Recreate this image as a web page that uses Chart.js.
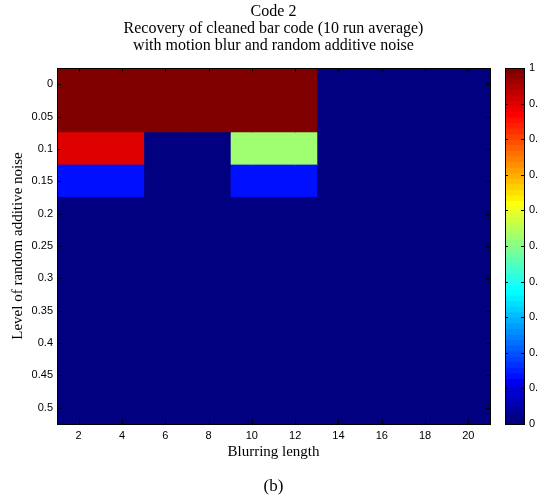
<!DOCTYPE html>
<html>
<head>
<meta charset="utf-8">
<script src="https://cdn.jsdelivr.net/npm/chart.js@4"></script>
<style>
  html, body { margin: 0; padding: 0; overflow: hidden; background: #fff; width: 538px; height: 502px; }
  #main { position: absolute; left: 0; top: 0; }
  #cbar { position: absolute; left: 500px; top: 0; }
</style>
</head>
<body>
<canvas id="main" width="538" height="502"></canvas>
<canvas id="cbar" width="80" height="502"></canvas>
<script>
// data
const blurLengths = [1, 2, 3, 4, 5, 6, 7, 8, 9, 10, 11, 12, 13, 14, 15, 16, 17, 18, 19, 20];
const noiseLevels = ['0', '0.05', '0.1', '0.15', '0.2', '0.25', '0.3', '0.35', '0.4', '0.45', '0.5'];
const xTicks = [2, 4, 6, 8, 10, 12, 14, 16, 18, 20];
const colorbarTicks = [0, 0.1, 0.2, 0.3, 0.4, 0.5, 0.6, 0.7, 0.8, 0.9, 1];

// one row per noise level, one value per blurring length
const recovery = [
  [1, 1, 1, 1, 1, 1, 1, 1, 1, 1, 1, 1, 0, 0, 0, 0, 0, 0, 0, 0],
  [1, 1, 1, 1, 1, 1, 1, 1, 1, 1, 1, 1, 0, 0, 0, 0, 0, 0, 0, 0],
  [0.9, 0.9, 0.9, 0.9, 0, 0, 0, 0, 0.52, 0.52, 0.52, 0.52, 0, 0, 0, 0, 0, 0, 0, 0],
  [0.13, 0.13, 0.13, 0.13, 0, 0, 0, 0, 0.13, 0.13, 0.13, 0.13, 0, 0, 0, 0, 0, 0, 0, 0],
  [0, 0, 0, 0, 0, 0, 0, 0, 0, 0, 0, 0, 0, 0, 0, 0, 0, 0, 0, 0],
  [0, 0, 0, 0, 0, 0, 0, 0, 0, 0, 0, 0, 0, 0, 0, 0, 0, 0, 0, 0],
  [0, 0, 0, 0, 0, 0, 0, 0, 0, 0, 0, 0, 0, 0, 0, 0, 0, 0, 0, 0],
  [0, 0, 0, 0, 0, 0, 0, 0, 0, 0, 0, 0, 0, 0, 0, 0, 0, 0, 0, 0],
  [0, 0, 0, 0, 0, 0, 0, 0, 0, 0, 0, 0, 0, 0, 0, 0, 0, 0, 0, 0],
  [0, 0, 0, 0, 0, 0, 0, 0, 0, 0, 0, 0, 0, 0, 0, 0, 0, 0, 0, 0],
  [0, 0, 0, 0, 0, 0, 0, 0, 0, 0, 0, 0, 0, 0, 0, 0, 0, 0, 0, 0]
];

// matlab jet(64)
function ramp(j) {
  if (j < 1 || j > 47) return 0;
  if (j <= 16) return j / 16;
  if (j <= 31) return 1;
  return (48 - j) / 16;
}
function jetColor(k) {
  const r = ramp(k - 24), g = ramp(k - 8), b = ramp(k + 7);
  return `rgb(${Math.round(r * 255)},${Math.round(g * 255)},${Math.round(b * 255)})`;
}
function valueColor(v) {
  return jetColor(Math.min(Math.floor(v * 64), 63) + 1);
}

const serif = 'Liberation Serif';
const sans = 'Liberation Sans';

// box + inward ticks like matlab
const frame = {
  id: 'frame',
  afterDatasetsDraw(chart, args, opts) {
    const ctx = chart.ctx;
    const { left, right, top, bottom } = chart.chartArea;
    const len = opts.len;
    ctx.save();
    ctx.strokeStyle = '#000';
    ctx.lineWidth = 1;
    ctx.beginPath();
    const xs = chart.scales.x;
    if (xs && xs.options.display) {
      xs.ticks.forEach(t => {
        const px = Math.round(xs.getPixelForValue(t.value)) + 0.5;
        ctx.moveTo(px, bottom); ctx.lineTo(px, bottom - len);
        ctx.moveTo(px, top); ctx.lineTo(px, top + len);
      });
    }
    const ys = chart.scales.y;
    ys.ticks.forEach((t, i) => {
      const py = Math.round(ys.getPixelForTick(i)) + 0.5;
      ctx.moveTo(left, py); ctx.lineTo(left + len, py);
      ctx.moveTo(right, py); ctx.lineTo(right - len, py);
    });
    ctx.stroke();
    ctx.strokeRect(Math.round(left) + 0.5, Math.round(top) + 0.5, Math.round(right - left), Math.round(bottom - top));
    ctx.restore();
  }
};

const cellSets = blurLengths.map((b, c) => ({
  data: noiseLevels.map(() => [b, b + 1]),
  backgroundColor: recovery.map(row => valueColor(row[c])),
  borderWidth: 0,
  inflateAmount: 0.5,
  grouped: false,
  barPercentage: 1,
  categoryPercentage: 1
}));

new Chart(document.getElementById('main'), {
  type: 'bar',
  data: { labels: noiseLevels, datasets: cellSets },
  plugins: [frame],
  options: {
    indexAxis: 'y',
    responsive: false,
    animation: false,
    devicePixelRatio: 1,
    layout: { padding: { left: 0, right: 48, top: 0, bottom: 0 } },
    plugins: {
      legend: { display: false },
      tooltip: { enabled: false },
      frame: { len: 4 },
      title: {
        display: true,
        fullSize: false,
        text: ['Code 2', 'Recovery of cleaned bar code (10 run average)', 'with motion blur and random additive noise'],
        color: '#000',
        font: { family: serif, size: 16, weight: 'normal', lineHeight: 1.08 },
        padding: { top: 3, bottom: 13.2 }
      },
      subtitle: {
        display: true,
        fullSize: false,
        position: 'bottom',
        text: '(b)',
        color: '#000',
        font: { family: serif, size: 17, weight: 'normal', lineHeight: 1.2 },
        padding: { top: 8, bottom: 5 }
      }
    },
    scales: {
      x: {
        type: 'linear',
        min: 1,
        max: 21,
        grid: { display: false, drawTicks: false },
        border: { display: false },
        afterBuildTicks: s => { s.ticks = xTicks.map(v => ({ value: v })); },
        afterFit: s => { s.height = 44.6; },
        ticks: { color: '#000', padding: 5, maxRotation: 0, font: { family: sans, size: 11 } },
        title: {
          display: true,
          text: 'Blurring length',
          color: '#000',
          font: { family: serif, size: 15, lineHeight: 1.2 },
          padding: { top: 0, bottom: 8 }
        }
      },
      y: {
        type: 'category',
        grid: { display: false, drawTicks: false },
        border: { display: false },
        afterFit: s => { s.width = 57; },
        ticks: { color: '#000', padding: 4, autoSkip: false, font: { family: sans, size: 11 } },
        title: {
          display: true,
          text: 'Level of random additive noise',
          color: '#000',
          font: { family: serif, size: 15, lineHeight: 1.2 },
          padding: { top: 9, bottom: 0 }
        }
      }
    }
  }
});

// colour bar
const bandSets = [];
for (let k = 0; k < 64; k++) {
  bandSets.push({
    data: [[k / 64, (k + 1) / 64]],
    backgroundColor: jetColor(k + 1),
    borderWidth: 0,
    inflateAmount: 0.5,
    grouped: false,
    barPercentage: 1,
    categoryPercentage: 1
  });
}

new Chart(document.getElementById('cbar'), {
  type: 'bar',
  data: { labels: [''], datasets: bandSets },
  plugins: [frame],
  options: {
    responsive: false,
    animation: false,
    devicePixelRatio: 1,
    layout: { padding: { left: 5, right: 0, top: 68, bottom: 78 } },
    plugins: { legend: { display: false }, tooltip: { enabled: false }, frame: { len: 3 } },
    scales: {
      x: { display: false },
      y: {
        position: 'right',
        min: 0,
        max: 1,
        grid: { display: false, drawTicks: false },
        border: { display: false },
        afterBuildTicks: s => { s.ticks = colorbarTicks.map(v => ({ value: v })); },
        afterFit: s => { s.width = 56; },
        ticks: { color: '#000', padding: 5, callback: v => String(v), font: { family: sans, size: 11 } }
      }
    }
  }
});
</script>
</body>
</html>
